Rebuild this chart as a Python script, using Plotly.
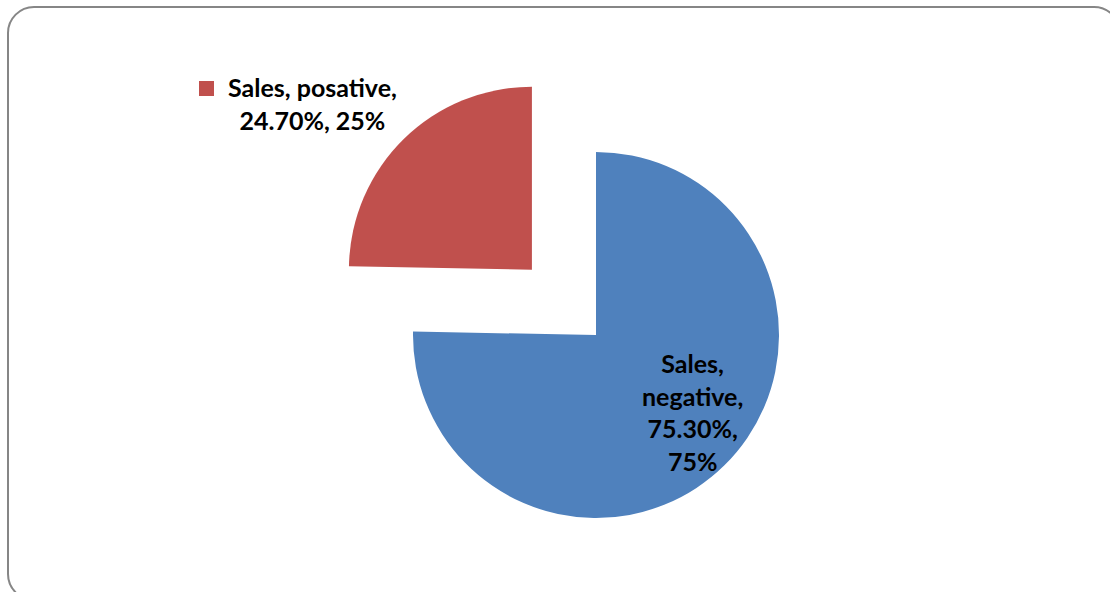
import math
import plotly.graph_objects as go

# Sales split data
series_name = "Sales"
categories = ["negative", "posative"]
shares = [75.30, 24.70]
colors = ["#4F81BD", "#C0504D"]
pulled = [0.0, 0.5]

W, H = 1110, 592
CX, CY, R = 596, 335, 183          # pie centre and radius in pixels
FONT = "Lato"
FSIZE = 25


def fx(x):
    return x / W


def fy(y):
    return (H - y) / H


def label_text(name, cat, pct, lines):
    parts = [f"{name},", f"{cat},", f"{pct:.2f}%,", f"{round(pct)}%"]
    out, cur = [], []
    for group in lines:
        out.append(" ".join(parts[i] for i in group))
    return "<br>".join(out)


fig = go.Figure()

# one pie layer per slice so each slice can be offset independently
total = sum(shares)
start = 0.0
for i, (cat, val) in enumerate(zip(categories, shares)):
    sweep = val / total * 360.0
    mid = math.radians(start + sweep / 2.0)
    off = pulled[i] * R
    cx = CX + off * math.sin(mid)
    cy = CY - off * math.cos(mid)
    slice_colors = [c if j == i else "rgba(0,0,0,0)" for j, c in enumerate(colors)]
    fig.add_trace(go.Pie(
        labels=categories,
        values=shares,
        sort=False,
        direction="clockwise",
        rotation=0,
        marker=dict(colors=slice_colors, line=dict(width=0)),
        textinfo="none",
        hoverinfo="skip",
        showlegend=False,
        domain=dict(x=[fx(cx - R), fx(cx + R)], y=[fy(cy + R), fy(cy - R)]),
    ))
    start += sweep

# data labels
fig.add_annotation(
    x=fx(692), y=fy(412), xref="paper", yref="paper",
    xanchor="center", yanchor="middle", align="center", showarrow=False,
    text="<b>" + label_text(series_name, categories[0], shares[0], [[0], [1], [2], [3]]) + "</b>",
    font=dict(family=FONT, size=FSIZE, color="#000000"),
)
fig.add_annotation(
    x=fx(312), y=fy(104), xref="paper", yref="paper",
    xanchor="center", yanchor="middle", align="center", showarrow=False,
    text="<b>" + label_text(series_name, categories[1], shares[1], [[0, 1], [2, 3]]) + "</b>",
    font=dict(family=FONT, size=FSIZE, color="#000000"),
)

# legend key beside the outer label
fig.add_shape(type="rect", xref="paper", yref="paper",
              x0=fx(199), x1=fx(214), y0=fy(96), y1=fy(81),
              fillcolor=colors[1], line=dict(width=0))

# rounded chart-area frame
L, T, Rt, B, rad = 8, 7, 1120, 600, 26
k = 0.45
path = (
    f"M {fx(L + rad)},{fy(T)} L {fx(Rt - rad)},{fy(T)} "
    f"C {fx(Rt - rad * k)},{fy(T)} {fx(Rt)},{fy(T + rad * k)} {fx(Rt)},{fy(T + rad)} "
    f"L {fx(Rt)},{fy(B - rad)} "
    f"C {fx(Rt)},{fy(B - rad * k)} {fx(Rt - rad * k)},{fy(B)} {fx(Rt - rad)},{fy(B)} "
    f"L {fx(L + rad)},{fy(B)} "
    f"C {fx(L + rad * k)},{fy(B)} {fx(L)},{fy(B - rad * k)} {fx(L)},{fy(B - rad)} "
    f"L {fx(L)},{fy(T + rad)} "
    f"C {fx(L)},{fy(T + rad * k)} {fx(L + rad * k)},{fy(T)} {fx(L + rad)},{fy(T)} Z"
)
fig.add_shape(type="path", xref="paper", yref="paper", path=path,
              line=dict(color="#868686", width=2), fillcolor="rgba(0,0,0,0)")

fig.update_layout(
    width=W, height=H,
    margin=dict(l=0, r=0, t=0, b=0),
    paper_bgcolor="#FFFFFF",
    plot_bgcolor="#FFFFFF",
    showlegend=False,
)

fig.write_html("out.html")
